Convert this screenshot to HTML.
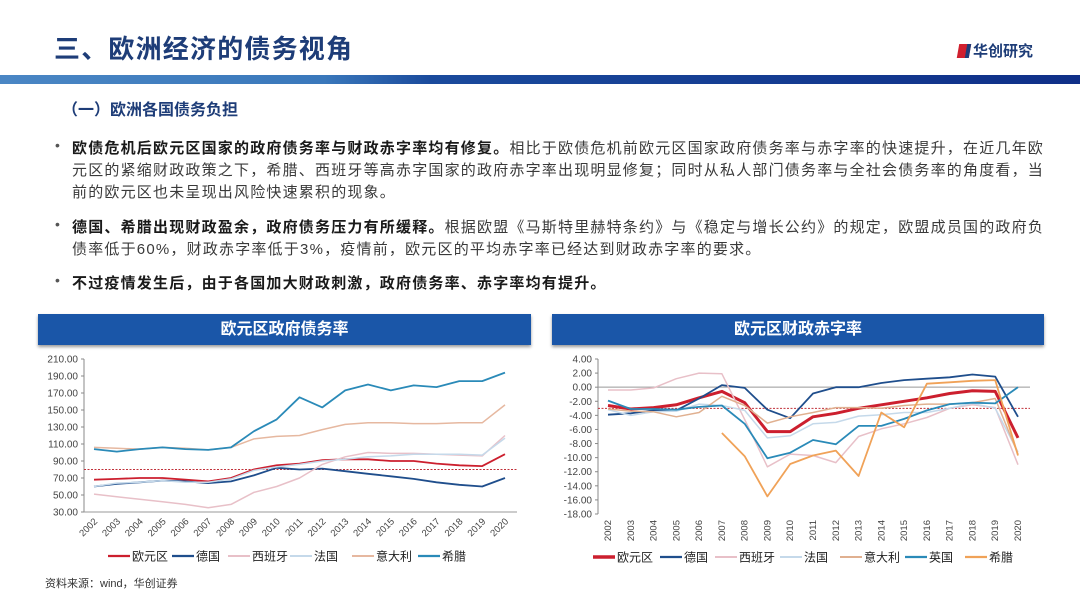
<!DOCTYPE html>
<html><head><meta charset="utf-8">
<style>
*{margin:0;padding:0;box-sizing:border-box}
body{width:1080px;height:608px;overflow:hidden;background:#fff;font-family:"Liberation Sans","Noto Sans CJK SC",sans-serif;position:relative;color:#333}
.abs{position:absolute}
#title{left:54px;top:29px;font-size:26px;font-weight:bold;color:#1e3d78;letter-spacing:1.2px}
#logo{left:958px;top:40px;font-size:15px;font-weight:bold;color:#1e3d78}
#stripe{left:0;top:75px;width:1080px;height:9px;background:linear-gradient(90deg,#4a86c4 0%,#3a78bb 30%,#1a4a9c 40%,#0f2f88 100%)}
#sub{left:62px;top:96px;font-size:16px;font-weight:bold;color:#1e3d78}
.ln{position:absolute;left:72px;font-size:15px;letter-spacing:1.2px;white-space:nowrap;color:#3a3a3a}
.ln b{color:#1a1a1a}
.dot{position:absolute;left:55px;font-size:14px;color:#555}
.hdr{position:absolute;top:314px;height:31px;background:#1a56a8;color:#fff;font-size:16px;font-weight:bold;text-align:center;line-height:31px;box-shadow:0 2px 3px #999}
#src{left:45px;top:575px;font-size:11px;color:#333}
svg text{font-family:"Liberation Sans","Noto Sans CJK SC",sans-serif}
</style></head><body>
<div id="title" class="abs">三、欧洲经济的债务视角</div>
<div id="logo" class="abs"><span style="display:inline-block;width:12px;height:14px;background:#d0202e;transform:skewX(-10deg);margin-right:3px;vertical-align:-2px;border-right:4px solid #1e3d78"></span>华创研究</div>
<div id="stripe" class="abs"></div>
<div id="sub" class="abs">（一）欧洲各国债务负担</div>

<div class="dot" style="top:137px">•</div>
<div class="ln" style="top:137px"><b>欧债危机后欧元区国家的政府债务率与财政赤字率均有修复。</b>相比于欧债危机前欧元区国家政府债务率与赤字率的快速提升，在近几年欧</div>
<div class="ln" style="top:159px">元区的紧缩财政政策之下，希腊、西班牙等高赤字国家的政府赤字率出现明显修复；同时从私人部门债务率与全社会债务率的角度看，当</div>
<div class="ln" style="top:181px">前的欧元区也未呈现出风险快速累积的现象。</div>
<div class="dot" style="top:216px">•</div>
<div class="ln" style="top:216px"><b>德国、希腊出现财政盈余，政府债务压力有所缓释。</b>根据欧盟《马斯特里赫特条约》与《稳定与增长公约》的规定，欧盟成员国的政府负</div>
<div class="ln" style="top:238px">债率低于60%，财政赤字率低于3%，疫情前，欧元区的平均赤字率已经达到财政赤字率的要求。</div>
<div class="dot" style="top:272px">•</div>
<div class="ln" style="top:272px"><b>不过疫情发生后，由于各国加大财政刺激，政府债务率、赤字率均有提升。</b></div>

<div class="hdr" style="left:38px;width:493px">欧元区政府债务率</div>
<div class="hdr" style="left:552px;width:492px">欧元区财政赤字率</div>

<svg id="c1" class="abs" style="left:0;top:0" width="1080" height="608"></svg>
<div id="src" class="abs">资料来源：wind，华创证券</div>

<script>
const years = ["2002","2003","2004","2005","2006","2007","2008","2009","2010","2011","2012","2013","2014","2015","2016","2017","2018","2019","2020"];
// Left chart: government debt ratio
const debtTicks = [30,50,70,90,110,130,150,170,190,210];
const debtEuro = [68,69,70,70,68,66,70,80,85,87,91,92,92,90,90,87,85,84,98];
const debtGermany = [60,63,65,67,66,64,66,73,82,80,81,78,75,72,69,65,62,60,70];
const debtSpain = [51,48,45,42,39,35,39,53,60,70,86,95,100,99,99,98,97,96,120];
const debtFrance = [60,64,65,67,65,65,69,79,83,86,90,92,95,96,98,98,98,97,117];
const debtItaly = [106,105,104,106,105,103,106,116,119,120,127,133,135,135,134,134,135,135,156];
const debtGreece = [104,101,104,106,104,103,106,125,139,165,153,173,180,173,179,177,184,184,194];
const debtRef = 80;
// Right chart: fiscal deficit ratio
const defTicks = [-18,-16,-14,-12,-10,-8,-6,-4,-2,0,2,4];
const defEuro = [-2.6,-3.1,-2.9,-2.5,-1.5,-0.6,-2.2,-6.3,-6.3,-4.2,-3.7,-3.0,-2.5,-2.0,-1.5,-0.9,-0.5,-0.6,-7.2];
const defGermany = [-3.9,-3.7,-3.3,-3.3,-1.6,0.3,-0.1,-3.2,-4.4,-0.9,0.0,0.0,0.6,1.0,1.2,1.4,1.8,1.5,-4.2];
const defSpain = [-0.4,-0.4,-0.1,1.2,2.0,1.9,-4.6,-11.3,-9.5,-9.7,-10.7,-7.0,-5.9,-5.2,-4.3,-3.0,-2.5,-2.9,-11.0];
const defFrance = [-3.2,-4.0,-3.5,-3.4,-2.4,-2.6,-3.3,-7.2,-6.9,-5.2,-5.0,-4.1,-3.9,-3.6,-3.6,-3.0,-2.3,-3.0,-9.2];
const defItaly = [-3.1,-3.4,-3.5,-4.2,-3.6,-1.3,-2.6,-5.1,-4.2,-3.6,-2.9,-2.9,-3.0,-2.6,-2.4,-2.4,-2.2,-1.6,-9.5];
const defUK = [-1.9,-3.1,-3.1,-3.2,-2.8,-2.6,-5.2,-10.1,-9.3,-7.5,-8.1,-5.5,-5.5,-4.5,-3.3,-2.4,-2.2,-2.3,0.0];
const defGreece = [null,null,null,null,null,-6.5,-9.8,-15.5,-10.9,-9.7,-9.0,-12.6,-3.6,-5.7,0.5,0.7,0.9,1.0,-9.7];
const defRef = -3;

const NS="http://www.w3.org/2000/svg";
const svg=document.getElementById('c1');
function mk(tag,attrs,name){const e=document.createElementNS(NS,tag);for(const k in attrs)e.setAttribute(k,attrs[k]);


svg.appendChild(e);return e;}

function chart(cfg){
  const xs=i=>cfg.x0+(cfg.x1-cfg.x0)*i/(years.length-1);
  const ys=v=>cfg.yTop+(cfg.yBot-cfg.yTop)*(cfg.max-v)/(cfg.max-cfg.min);
  mk('line',{x1:cfg.ax,y1:ys(cfg.max),x2:cfg.ax,y2:ys(cfg.min),stroke:'#888','stroke-width':1},cfg.p+'-y-axis');
  cfg.ticks.forEach(t=>{
    mk('line',{x1:cfg.ax-3,y1:ys(t),x2:cfg.ax,y2:ys(t),stroke:'#888'},cfg.p+'-y-tick');
    const tx=mk('text',{x:cfg.ax-6,y:ys(t)+3.5,'font-size':10,'text-anchor':'end',fill:'#444'},cfg.p+'-y-tick-label');
    tx.textContent=t.toFixed(2);
  });
  const base=ys(cfg.axisAt);
  mk('line',{x1:cfg.ax,y1:base,x2:cfg.x1+12,y2:base,stroke:'#999','stroke-width':1},cfg.p+'-x-axis');
  years.forEach((y,i)=>{
    const x=xs(i);
    const tx=mk('text',{'font-size':9.5,fill:'#444','text-anchor':'end',transform:cfg.rot90?`translate(${x+3},${cfg.labY}) rotate(-90)`:`translate(${x+4},${cfg.labY}) rotate(-45)`},cfg.p+'-x-tick-label');
    tx.textContent=y;
  });
  mk('line',{x1:cfg.ax,y1:ys(cfg.ref),x2:cfg.x1+12,y2:ys(cfg.ref),stroke:'#c0303a','stroke-width':1,'stroke-dasharray':'2,1.5'},cfg.p+'-reference-line');
  cfg.series.forEach(s=>{
    let d='';let pen=false;
    s.v.forEach((v,i)=>{if(v===null){pen=false;return;}d+=(pen?'L':'M')+xs(i).toFixed(1)+','+ys(v).toFixed(1);pen=true;});
    mk('path',{d:d,fill:'none',stroke:s.c,'stroke-width':s.w,'stroke-linejoin':'round'},cfg.p+'-line-'+s.n);
  });
  cfg.series.forEach((s,i)=>{
    const lx=cfg.legX[i];
    mk('line',{x1:lx,y1:cfg.legY,x2:lx+22,y2:cfg.legY,stroke:s.c,'stroke-width':s.w+0.5},cfg.p+'-legend-swatch');
    const tx=mk('text',{x:lx+24,y:cfg.legY+4.5,'font-size':12,fill:'#222'},cfg.p+'-legend-label');
    tx.textContent=s.label;
  });
}
chart({p:'debt',x0:94,x1:505,ax:84,yTop:359,yBot:512,max:210,min:30,axisAt:30,ticks:debtTicks,ref:debtRef,labY:522,rot90:false,legY:556,
  legX:[108,172,228,290,352,418],
  series:[
   {n:'euro',label:'欧元区',v:debtEuro,c:'#cc1f2e',w:1.8},
   {n:'germany',label:'德国',v:debtGermany,c:'#1f4e8c',w:1.8},
   {n:'spain',label:'西班牙',v:debtSpain,c:'#e8c0c8',w:1.5},
   {n:'france',label:'法国',v:debtFrance,c:'#c5d9ea',w:1.5},
   {n:'italy',label:'意大利',v:debtItaly,c:'#e6b8a0',w:1.5},
   {n:'greece',label:'希腊',v:debtGreece,c:'#2a8ab8',w:1.8}
  ]
});
chart({p:'deficit',x0:608,x1:1018,ax:598,yTop:359,yBot:514,max:4,min:-18,axisAt:0,ticks:defTicks,ref:defRef,labY:520,rot90:true,legY:557,
  legX:[593,660,715,780,840,905,965],
  series:[
   {n:'euro',label:'欧元区',v:defEuro,c:'#cc1f2e',w:3},
   {n:'germany',label:'德国',v:defGermany,c:'#1f4e8c',w:1.8},
   {n:'spain',label:'西班牙',v:defSpain,c:'#e8c0c8',w:1.5},
   {n:'france',label:'法国',v:defFrance,c:'#c5d9ea',w:1.5},
   {n:'italy',label:'意大利',v:defItaly,c:'#e0b090',w:1.5},
   {n:'uk',label:'英国',v:defUK,c:'#2a8ab8',w:1.8},
   {n:'greece',label:'希腊',v:defGreece,c:'#f0a258',w:1.8}
  ]
});
</script>
</body></html>
